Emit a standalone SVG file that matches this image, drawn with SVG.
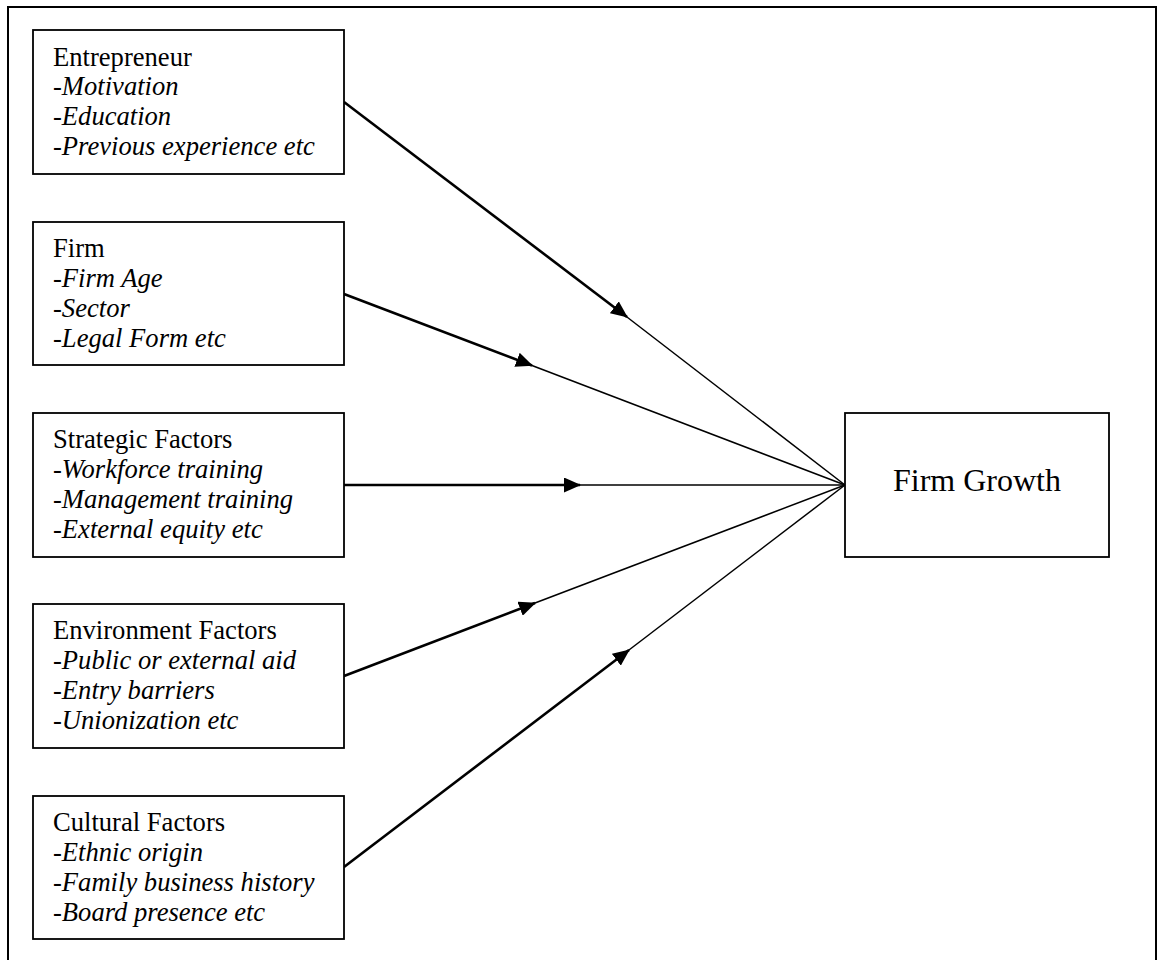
<svg xmlns="http://www.w3.org/2000/svg" width="1160" height="960" viewBox="0 0 1160 960">
<style>
.box{fill:#fff;stroke:#000;stroke-width:1.8}
.t{font-family:"Liberation Serif","Times New Roman",serif;font-size:26.6px;fill:#000}
.i{font-style:italic}
.thick{stroke:#000;stroke-width:2.6;fill:none}
.thin{stroke:#000;stroke-width:1.5;fill:none}
</style>
<defs>
<marker id="ah" markerUnits="userSpaceOnUse" markerWidth="17" markerHeight="15" refX="16" refY="7.5" orient="auto" viewBox="0 0 17 15">
<path d="M0,0 L17,7.5 L0,15 Z" fill="#000"/>
</marker>
</defs>
<rect x="0" y="0" width="1160" height="960" fill="#fff"/>
<path d="M8,975 V7 H1156 V975" fill="none" stroke="#000" stroke-width="2"/>
<g id="connectors">
<line class="thick" x1="344" y1="102" x2="627" y2="317" marker-end="url(#ah)"/>
<line class="thin" x1="625" y1="315.5" x2="845" y2="485"/>
<line class="thick" x1="344" y1="294" x2="532" y2="365.5" marker-end="url(#ah)"/>
<line class="thin" x1="530" y1="364.8" x2="845" y2="485"/>
<line class="thick" x1="344" y1="485" x2="580" y2="485" marker-end="url(#ah)"/>
<line class="thin" x1="578" y1="485" x2="845" y2="485"/>
<line class="thick" x1="344" y1="676" x2="535" y2="603" marker-end="url(#ah)"/>
<line class="thin" x1="533" y1="603.8" x2="845" y2="485"/>
<line class="thick" x1="344" y1="867" x2="629" y2="650" marker-end="url(#ah)"/>
<line class="thin" x1="627" y1="651.5" x2="845" y2="485"/>
</g>
<g id="entrepreneur">
<rect class="box" x="33" y="30" width="311" height="144"/>
<text class="t" x="53" y="66">Entrepreneur</text>
<text class="t" x="53" y="95">-<tspan class="i">Motivation</tspan></text>
<text class="t" x="53" y="125">-<tspan class="i">Education</tspan></text>
<text class="t" x="53" y="155">-<tspan class="i">Previous experience etc</tspan></text>
</g>
<g id="firm">
<rect class="box" x="33" y="222" width="311" height="143"/>
<text class="t" x="53" y="257">Firm</text>
<text class="t" x="53" y="287">-<tspan class="i">Firm Age</tspan></text>
<text class="t" x="53" y="317">-<tspan class="i">Sector</tspan></text>
<text class="t" x="53" y="347">-<tspan class="i">Legal Form etc</tspan></text>
</g>
<g id="strategic">
<rect class="box" x="33" y="413" width="311" height="144"/>
<text class="t" x="53" y="448">Strategic Factors</text>
<text class="t" x="53" y="478">-<tspan class="i">Workforce training</tspan></text>
<text class="t" x="53" y="508">-<tspan class="i">Management training</tspan></text>
<text class="t" x="53" y="538">-<tspan class="i">External equity etc</tspan></text>
</g>
<g id="environment">
<rect class="box" x="33" y="604" width="311" height="144"/>
<text class="t" x="53" y="639">Environment Factors</text>
<text class="t" x="53" y="669">-<tspan class="i">Public or external aid</tspan></text>
<text class="t" x="53" y="699">-<tspan class="i">Entry barriers</tspan></text>
<text class="t" x="53" y="729">-<tspan class="i">Unionization etc</tspan></text>
</g>
<g id="cultural">
<rect class="box" x="33" y="796" width="311" height="143"/>
<text class="t" x="53" y="831">Cultural Factors</text>
<text class="t" x="53" y="861">-<tspan class="i">Ethnic origin</tspan></text>
<text class="t" x="53" y="891">-<tspan class="i">Family business history</tspan></text>
<text class="t" x="53" y="921">-<tspan class="i">Board presence etc</tspan></text>
</g>
<g id="firm-growth">
<rect class="box" x="845" y="413" width="264" height="144"/>
<text class="t" x="977" y="491" text-anchor="middle" style="font-size:32px">Firm Growth</text>
</g>
</svg>
